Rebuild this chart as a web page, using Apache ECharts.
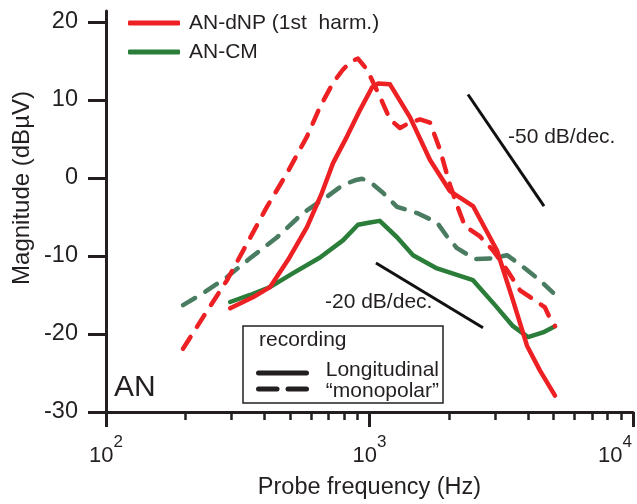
<!DOCTYPE html>
<html>
<head>
<meta charset="utf-8">
<script src="https://cdn.jsdelivr.net/npm/echarts@6/dist/echarts.min.js"></script>
<style>html,body{margin:0;padding:0;background:#fff;}#c{width:637px;height:504px;}</style>
</head>
<body>
<div id="c"></div>
<script>
// ---- data (frequency in Hz, magnitude in dBµV) ----
const fDNP_L = [296, 361, 419, 491, 579, 660, 727, 821, 920, 1022, 1077, 1196, 1424, 1697, 2021, 2471, 3047, 3504, 3960, 4437, 5058];
const dNP_L  = [-16.7, -15.3, -14.0, -10.5, -6.3, -1.9, 1.9, 5.3, 8.7, 11.6, 12.1, 12.0, 7.8, 2.3, -1.7, -3.6, -9.3, -15.7, -21.5, -24.7, -27.9];

const fDNP_M = [196, 233, 288, 343, 408, 486, 579, 649, 727, 793, 858, 904, 978, 1096, 1196, 1305, 1424, 1555, 1697, 1852, 2021, 2148, 2304, 2627, 2943, 3325, 3726, 4247, 4634, 4842, 5058];
const dNP_M  = [-21.9, -17.9, -13.1, -8.4, -3.7, 0.6, 5.3, 9.1, 12.2, 13.9, 15.0, 15.3, 13.9, 10.4, 7.5, 6.4, 7.1, 7.5, 7.1, 3.6, -0.9, -3.5, -6.2, -7.5, -9.3, -11.8, -14.4, -15.7, -16.6, -18.0, -19.0];

const fCM_L = [296, 352, 419, 513, 649, 793, 904, 1004, 1094, 1272, 1463, 1804, 2471, 2995, 3504, 3995, 4554, 5058];
const CM_L  = [-15.9, -15.0, -14.0, -12.2, -10.2, -8.0, -6.0, -5.7, -5.5, -7.6, -9.9, -11.6, -13.1, -16.3, -19.0, -20.4, -19.8, -19.0];

const fCM_M = [196, 233, 288, 352, 446, 559, 690, 793, 881, 937, 1004, 1125, 1272, 1515, 1804, 1968, 2148, 2514, 2943, 3325, 3726, 4429, 4970];
const CM_M  = [-16.3, -14.8, -12.7, -10.3, -7.6, -4.5, -2.4, -0.9, -0.3, -0.1, -0.5, -1.9, -3.7, -4.5, -5.7, -7.5, -9.0, -10.4, -10.3, -9.9, -11.1, -13.1, -14.7];

// reference slope lines
const slope50F = [2365, 4595];
const slope50Y = [10.7, -3.6];
const slope20F = [1058, 2696];
const slope20Y = [-10.9, -19.2];

// ticks
const yTicks = [-30, -20, -10, 0, 10, 20];
const xMajor = [100, 1000, 10000];
const xMinor = [200, 300, 400, 500, 600, 700, 800, 900, 2000, 3000, 4000, 5000, 6000, 7000, 8000, 9000];

const NAME_DNP = 'AN-dNP (1st  harm.)';
const NAME_CM = 'AN-CM';

const FONT = '"Liberation Sans", Arial, Helvetica, sans-serif';
const INK = '#231f20';
const RED = '#ed2024';
const GREEN = '#2b7d3a';
const GREEN2 = '#4a7c62';

const pairs = (xs, ys) => xs.map((x, i) => [x, ys[i]]);

const chart = echarts.init(document.getElementById('c'), null, {renderer: 'canvas'});

const lineSeries = (name, xs, ys, color, dashed, z) => ({
  type: 'line', name: name, data: pairs(xs, ys), color: color,
  showSymbol: false, symbol: 'none', silent: true, z: z, animation: false,
  lineStyle: {color: color, width: 4.5, type: dashed ? [14, 12] : 'solid', cap: 'round', join: 'round'}
});

chart.setOption({
  animation: false,
  textStyle: {fontFamily: FONT, color: INK},
  grid: {left: 106, right: 4, top: 11, bottom: 92, containLabel: false, outerBoundsMode: 'none'},
  legend: {
    data: [NAME_DNP, NAME_CM], orient: 'vertical', left: 128, top: 11, padding: 0,
    itemWidth: 52, itemHeight: 5, itemGap: 5, icon: 'roundRect', selectedMode: false,
    textStyle: {fontSize: 21, lineHeight: 24, color: INK, fontFamily: FONT, padding: [0, 0, 0, 4]}
  },
  xAxis: [{
    type: 'log', logBase: 10, min: 100, max: 10000, position: 'bottom',
    name: 'Probe frequency (Hz)', nameLocation: 'middle', nameGap: 64, nameMoveOverlap: false,
    nameTextStyle: {fontSize: 23.5, color: INK, fontFamily: FONT},
    axisLine: {onZero: false, lineStyle: {color: INK, width: 3}},
    axisTick: {length: 15, lineStyle: {color: INK, width: 3}, customValues: xMajor},
    splitLine: {show: false},
    axisLabel: {
      customValues: xMajor, margin: 22, color: INK,
      formatter: function (v) {
        const e = Math.round(Math.log10(v));
        return e === 4 ? '{b|10}{s4|' + e + '}' : '{b|10}{s|' + e + '}';
      },
      rich: {
        b: {fontSize: 22, lineHeight: 44, fontFamily: FONT, color: INK},
        s: {fontSize: 17, lineHeight: 17, verticalAlign: 'top', fontFamily: FONT, color: INK},
        s4: {fontSize: 17, lineHeight: 17, verticalAlign: 'top', fontFamily: FONT, color: INK, padding: [0, 36, 0, 0]}
      }
    }
  }, {
    type: 'log', logBase: 10, min: 100, max: 10000, position: 'bottom', offset: 0,
    axisLine: {show: false, onZero: false},
    axisTick: {length: 8, lineStyle: {color: INK, width: 2.5}, customValues: xMinor},
    axisLabel: {show: false}, splitLine: {show: false}
  }],
  yAxis: {
    type: 'value', min: -30, max: 21.4,
    axisLine: {onZero: false, lineStyle: {color: INK, width: 3}},
    axisTick: {length: 18, lineStyle: {color: INK, width: 3}, customValues: yTicks},
    axisLabel: {customValues: yTicks, margin: 28, fontSize: 23.5, color: INK, fontFamily: FONT},
    splitLine: {show: false}
  },
  series: [
    lineSeries(NAME_DNP, fDNP_L, dNP_L, RED, false, 5),
    lineSeries(NAME_CM, fCM_L, CM_L, GREEN, false, 4),
    lineSeries(NAME_DNP, fDNP_M, dNP_M, RED, true, 5),
    lineSeries(NAME_CM, fCM_M, CM_M, GREEN2, true, 3),
    {type: 'line', name: 'slope -50', data: pairs(slope50F, slope50Y), symbol: 'none', silent: true,
     lineStyle: {color: '#111', width: 3}, color: '#111'},
    {type: 'line', name: 'slope -20', data: pairs(slope20F, slope20Y), symbol: 'none', silent: true,
     lineStyle: {color: '#111', width: 3}, color: '#111'}
  ],
  graphic: [
    {type: 'text', x: 22, y: 188, rotation: Math.PI / 2,
     style: {text: 'Magnitude (dBµV)', font: '24px ' + FONT, fill: INK, align: 'center', verticalAlign: 'middle'}},
    {type: 'text', x: 114, y: 388,
     style: {text: 'AN', font: '30px ' + FONT, fill: INK, align: 'left', verticalAlign: 'middle'}},
    {type: 'text', x: 508, y: 137,
     style: {text: '-50 dB/dec.', font: '21px ' + FONT, fill: INK, align: 'left', verticalAlign: 'middle'}},
    {type: 'text', x: 325, y: 302,
     style: {text: '-20 dB/dec.', font: '21px ' + FONT, fill: INK, align: 'left', verticalAlign: 'middle'}},
    {type: 'rect', shape: {x: 243, y: 326, width: 200, height: 77},
     style: {fill: '#fff', stroke: INK, lineWidth: 1.5}, z: 10},
    {type: 'text', x: 259, y: 340, z: 11,
     style: {text: 'recording', font: '21px ' + FONT, fill: INK, align: 'left', verticalAlign: 'middle'}},
    {type: 'line', shape: {x1: 258.5, y1: 373, x2: 306.5, y2: 373}, z: 11,
     style: {stroke: INK, lineWidth: 5, lineCap: 'round'}},
    {type: 'line', shape: {x1: 258.5, y1: 389, x2: 277, y2: 389}, z: 11,
     style: {stroke: INK, lineWidth: 5, lineCap: 'round'}},
    {type: 'line', shape: {x1: 288, y1: 389, x2: 306.5, y2: 389}, z: 11,
     style: {stroke: INK, lineWidth: 5, lineCap: 'round'}},
    {type: 'text', x: 439, y: 370, z: 11,
     style: {text: 'Longitudinal', font: '21px ' + FONT, fill: INK, align: 'right', verticalAlign: 'middle'}},
    {type: 'text', x: 439, y: 391, z: 11,
     style: {text: '\u201Cmonopolar\u201D', font: '21px ' + FONT, fill: INK, align: 'right', verticalAlign: 'middle'}}
  ]
});
</script>
</body>
</html>
